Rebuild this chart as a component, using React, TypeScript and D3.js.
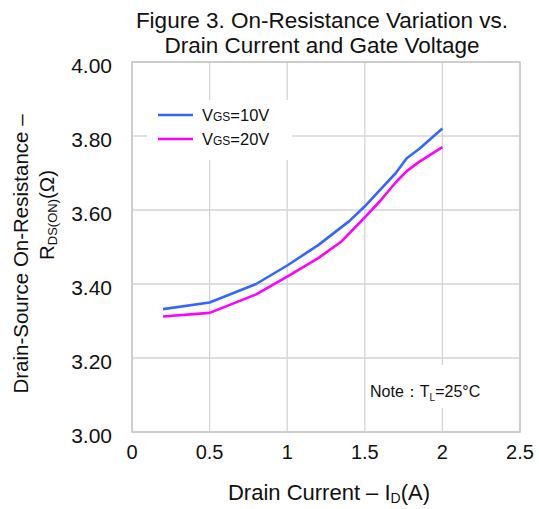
import React from "react";
import * as d3 from "d3";

const xTicks = [0, 0.5, 1, 1.5, 2, 2.5];
const yTicks = [3.0, 3.2, 3.4, 3.6, 3.8, 4.0];
const vgs10X = [0.2, 0.5, 0.8, 1.0, 1.2, 1.4, 1.5, 1.6, 1.7, 1.77, 1.85, 2.0];
const vgs10Y = [3.332, 3.35, 3.40, 3.45, 3.505, 3.57, 3.61, 3.655, 3.70, 3.74, 3.765, 3.82];
const vgs20X = [0.2, 0.5, 0.8, 1.0, 1.2, 1.35, 1.5, 1.6, 1.7, 1.77, 1.85, 2.0];
const vgs20Y = [3.312, 3.322, 3.372, 3.42, 3.47, 3.515, 3.58, 3.625, 3.675, 3.705, 3.73, 3.77];

const FONT = "'Liberation Sans', Arial, sans-serif";

export default function App() {
  const x = d3.scaleLinear().domain([0, 2.5]).range([132, 520]);
  const y = d3.scaleLinear().domain([3.0, 4.0]).range([432, 62]);
  const line = d3.line<[number, number]>().x((d) => x(d[0])).y((d) => y(d[1]));
  const s10 = vgs10X.map((v, i) => [v, vgs10Y[i]] as [number, number]);
  const s20 = vgs20X.map((v, i) => [v, vgs20Y[i]] as [number, number]);
  const grid = "#d4d4d4";
  return (
    <svg width={539} height={509} style={{ position: "absolute", left: 0, top: 0, background: "#fff" }} fontFamily={FONT}>
      <rect x={0} y={0} width={539} height={509} fill="#fff" />
      <text x={322} y={28} textAnchor="middle" fontSize={22.5} fill="#111">Figure 3. On-Resistance Variation vs.</text>
      <text x={322} y={53} textAnchor="middle" fontSize={22.5} fill="#111">Drain Current and Gate Voltage</text>
      {xTicks.map((t) => (
        <line key={"gx" + t} x1={x(t)} x2={x(t)} y1={y(4)} y2={y(3)} stroke={grid} strokeWidth={1.3} />
      ))}
      {yTicks.map((t) => (
        <line key={"gy" + t} x1={x(0)} x2={x(2.5)} y1={y(t)} y2={y(t)} stroke={grid} strokeWidth={1.3} />
      ))}
      <rect x={x(0)} y={y(4)} width={x(2.5) - x(0)} height={y(3) - y(4)} fill="none" stroke="#c8c8c8" strokeWidth={1.5} />
      <rect x={147} y={100} width={145} height={60} fill="#fff" />
      <rect x={368} y={365} width={125} height={43} fill="#fff" />
      <path d={line(s10) || ""} fill="none" stroke="#3366ff" strokeWidth={2.6} strokeLinejoin="round" />
      <path d={line(s20) || ""} fill="none" stroke="#ff00ff" strokeWidth={2.6} strokeLinejoin="round" />
      <line x1={158} x2={193} y1={115} y2={115} stroke="#3366ff" strokeWidth={2.6} />
      <line x1={158} x2={193} y1={139} y2={139} stroke="#ff00ff" strokeWidth={2.6} />
      <text x={202} y={121} fontSize={16.5} fill="#111">V<tspan fontSize={12}>GS</tspan>=10V</text>
      <text x={202} y={145} fontSize={16.5} fill="#111">V<tspan fontSize={12}>GS</tspan>=20V</text>
      <text x={370} y={397} fontSize={16} fill="#111">Note：T<tspan fontSize={10} dy={4}>L</tspan><tspan dy={-4}>=25°C</tspan></text>
      {yTicks.map((t) => (
        <text key={"yl" + t} x={112} y={y(t) + 10.5} textAnchor="end" fontSize={21} fill="#111">{t.toFixed(2)}</text>
      ))}
      {xTicks.map((t) => (
        <text key={"xl" + t} x={x(t)} y={459} textAnchor="middle" fontSize={20} fill="#111">{String(t)}</text>
      ))}
      <text x={329} y={500} textAnchor="middle" fontSize={22} fill="#111">Drain Current  –  I<tspan fontSize={14} dy={3}>D</tspan><tspan dy={-3}>(A)</tspan></text>
      <text transform="translate(28,254) rotate(-90)" textAnchor="middle" fontSize={20.5} fill="#111">Drain-Source On-Resistance  –</text>
      <text transform="translate(54,215) rotate(-90)" textAnchor="middle" fontSize={20.5} fill="#111">R<tspan fontSize={13} dy={3}>DS(ON)</tspan><tspan dy={-3}>(Ω)</tspan></text>
    </svg>
  );
}
